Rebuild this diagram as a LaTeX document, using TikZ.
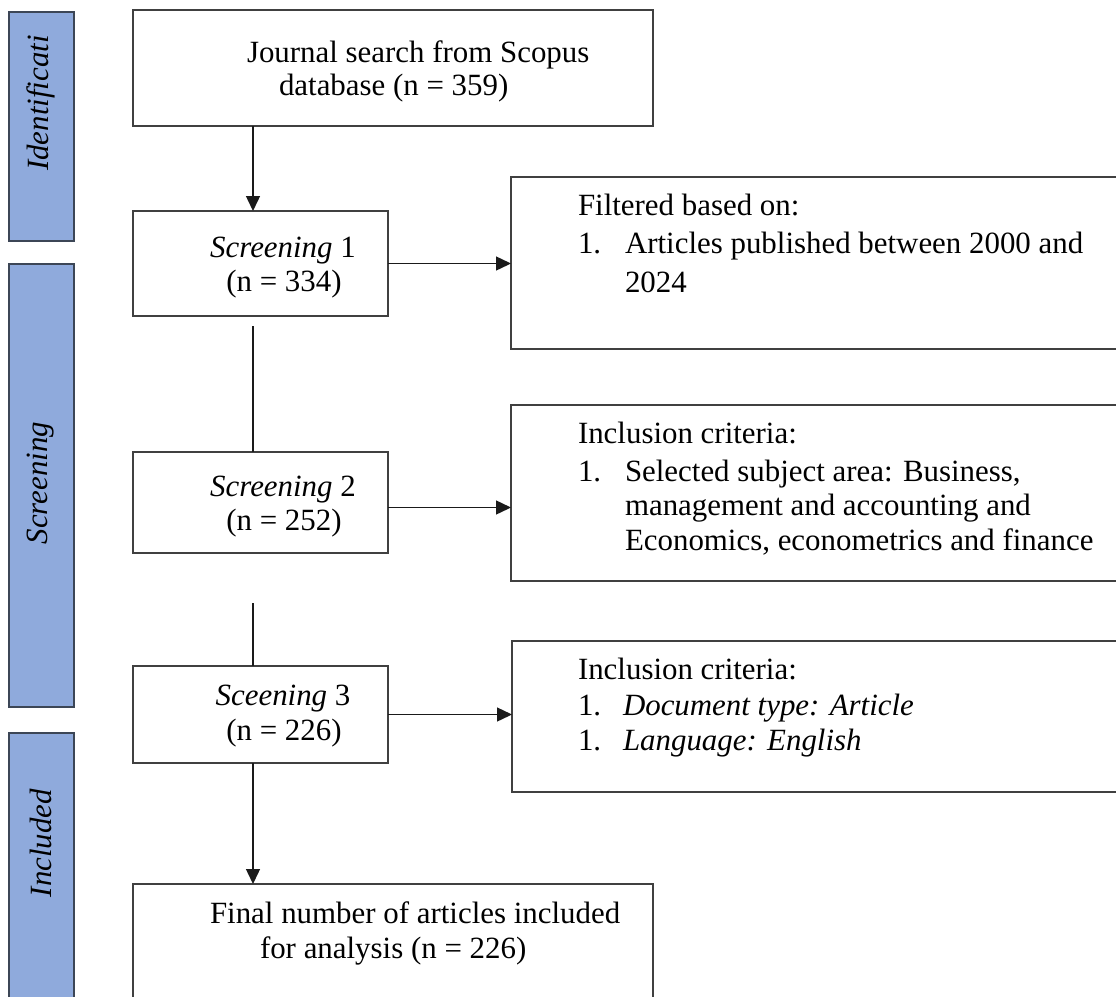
\documentclass[tikz,border=0pt]{standalone}
\usepackage{fontspec}
\setmainfont{Liberation Serif}
\usetikzlibrary{arrows.meta}
\definecolor{barfill}{HTML}{8FAADC}
\definecolor{barline}{HTML}{3C4656}
\definecolor{boxline}{HTML}{404040}
\definecolor{conn}{HTML}{1A1A1A}
\begin{document}
\begin{tikzpicture}[x=1pt,y=-1pt,
  txt/.style={font=\fontsize{30.9}{34}\selectfont, inner sep=0, outer sep=0, anchor=base west},
  ctxt/.style={txt, anchor=base},
  vtxt/.style={font=\fontsize{30.9}{34}\selectfont\itshape, inner sep=0, outer sep=0, rotate=90},
  bar/.style={draw=barline, fill=barfill, line width=1.3pt, anchor=north west, inner sep=0, outer sep=0},
  boxnode/.style={draw=boxline, line width=1.6pt, anchor=north west, inner sep=0, outer sep=0},
  link/.style={draw=conn, line width=1.4pt},
  arr/.style={link, -{Triangle[length=15pt,width=14pt]}}]

\useasboundingbox (0,0) rectangle (1116,996);
\clip (0,0) rectangle (1116,996);

% stage bars
\node[bar, minimum width=65pt, minimum height=229pt] (barI) at (9,12) {};
\node[bar, minimum width=65pt, minimum height=443pt] (barS) at (9,264) {};
\node[bar, minimum width=65pt, minimum height=290pt] (barN) at (9,733) {};
\node[vtxt] (tI) at (41,103) {Identificati};
\node[vtxt] (tS) at (41,483) {Screening};
\node[vtxt] (tN) at (41,843) {Included};

% boxes
\node[boxnode, minimum width=520pt, minimum height=116pt] (box1) at (133,10) {};
\node[boxnode, minimum width=255pt, minimum height=105pt] (scr1) at (133,211) {};
\node[boxnode, minimum width=255pt, minimum height=101pt] (scr2) at (133,452) {};
\node[boxnode, minimum width=255pt, minimum height=97pt] (scr3) at (133,666) {};
\node[boxnode, minimum width=520pt, minimum height=140pt] (final) at (133,884) {};
\node[boxnode, minimum width=640pt, minimum height=172pt] (boxA) at (511,177) {};
\node[boxnode, minimum width=640pt, minimum height=176pt] (boxB) at (511,405) {};
\node[boxnode, minimum width=640pt, minimum height=151pt] (boxC) at (512,641) {};

% texts
\node[txt] (t1a) at (247,62) {Journal search from Scopus};
\node[txt] (t1b) at (279,95) {database (n = 359)};

\node[ctxt] (s1a) at (283,257) {\textit{Screening} 1};
\node[ctxt] (s1b) at (284,291) {(n = 334)};
\node[ctxt] (s2a) at (283,496) {\textit{Screening} 2};
\node[ctxt] (s2b) at (284,530) {(n = 252)};
\node[ctxt] (s3a) at (283,705) {\textit{Sceening} 3};
\node[ctxt] (s3b) at (284,740) {(n = 226)};

\node[txt] (fa) at (210,923) {Final number of articles included};
\node[txt] (fb) at (260,958) {for analysis (n = 226)};

\node[txt] (aa) at (578,215) {Filtered based on:};
\node[txt] (an) at (578,253) {1.};
\node[txt] (ab) at (625,253) {Articles published between 2000 and};
\node[txt] (ac) at (625,292) {2024};

\node[txt] (ba) at (578,443) {Inclusion criteria:};
\node[txt] (bn) at (578,481) {1.};
\node[txt] (bb) at (625,481) {Selected subject area: Business,};
\node[txt] (bc) at (625,515) {management and accounting and};
\node[txt] (bd) at (625,550) {Economics, econometrics and finance};

\node[txt] (ca) at (578,679) {Inclusion criteria:};
\node[txt] (cn1) at (578,715) {1.};
\node[txt] (cb) at (623,715) {\itshape Document type: Article};
\node[txt] (cn2) at (578,750) {1.};
\node[txt] (cc) at (623,750) {\itshape Language: English};

% connectors
\coordinate (sp1) at (253,326);
\coordinate (sp2) at (253,603);
\draw[arr] (box1.south -| sp1) -- (scr1.north -| sp1);
\draw[link] (sp1) -- (scr2.north -| sp1);
\draw[link] (sp2) -- (scr3.north -| sp2);
\draw[arr] (scr3.south -| sp2) -- (final.north -| sp2);
\draw[arr] (scr1.east) -- (scr1.east -| boxA.west);
\draw[arr] ([yshift=-5pt]scr2.east) -- ([yshift=-5pt]scr2.east -| boxB.west);
\draw[arr] (scr3.east) -- (scr3.east -| boxC.west);
\end{tikzpicture}
\end{document}
